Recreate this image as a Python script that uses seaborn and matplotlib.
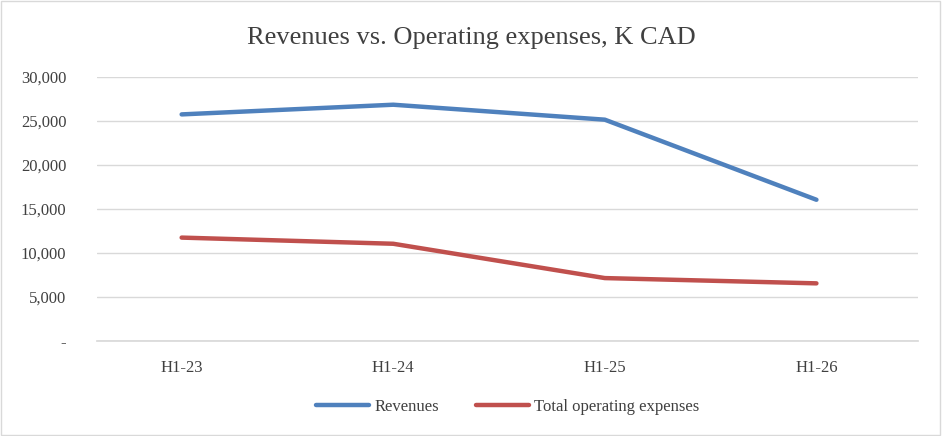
import matplotlib
matplotlib.use("Agg")
import matplotlib.pyplot as plt
import seaborn as sns
import pandas as pd
from matplotlib.ticker import FuncFormatter

periods = ["H1-23", "H1-24", "H1-25", "H1-26"]
revenues = [25750, 26850, 25150, 16050]
opex = [11750, 11050, 7150, 6550]

sns.set_theme(style="white")
plt.rcParams['font.family'] = ['Liberation Serif', 'DejaVu Serif']

df = pd.DataFrame({
    "x": list(range(len(periods))) * 2,
    "value": revenues + opex,
    "series": ["Revenues"] * 4 + ["Total operating expenses"] * 4,
})

fig = plt.figure(figsize=(9.42, 4.36), dpi=100)
ax = fig.add_axes([97/942, 1-341/436, (918-97)/942, (341-77)/436])
sns.lineplot(data=df, x="x", y="value", hue="series",
             palette=["#4F81BD", "#C0504D"], linewidth=3.2, ax=ax, legend=True)
ax.set_xlim(-0.4, 3.48)
ax.set_ylim(0, 30000)
ax.set_yticks(range(0, 30001, 5000))
ax.yaxis.set_major_formatter(FuncFormatter(lambda v, p: "-" if v == 0 else f"{int(v):,}"))
ax.set_xticks(range(4))
ax.set_xticklabels(periods)
ax.grid(axis="y", color="#D9D9D9", linewidth=1)
for s in ["top", "right", "left"]:
    ax.spines[s].set_visible(False)
ax.spines["bottom"].set_color("#D9D9D9")
ax.tick_params(axis="both", length=0, labelsize=12, colors="#404040", pad=14)
ax.tick_params(axis="y", pad=22)
ax.set_xlabel("")
ax.set_ylabel("")
ax.legend(loc="center", bbox_to_anchor=(0.5, -0.25), ncol=2, frameon=False,
          fontsize=12, handlelength=3.2, handletextpad=0.3, columnspacing=2.2)
for t in ax.get_legend().get_texts():
    t.set_color("#404040")
fig.text(0.5, 1-38/436, "Revenues vs. Operating expenses, K CAD", ha="center",
         va="center", fontsize=19, color="#404040")
fig.patches.append(plt.Rectangle((0.001, 0.002), 0.997, 0.995, transform=fig.transFigure,
                                 fill=False, edgecolor="#D9D9D9", linewidth=1))
fig.savefig("out.png", dpi=100)
